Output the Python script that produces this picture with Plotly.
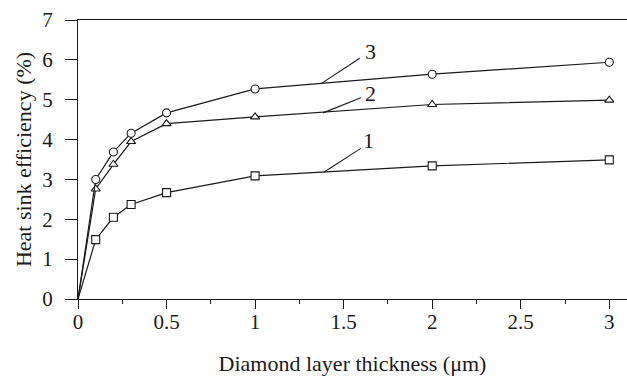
import plotly.graph_objects as go

# Diamond layer thickness (µm)
thickness = [0, 0.1, 0.2, 0.3, 0.5, 1, 2, 3]

# Heat sink efficiency (%) for the three configurations
eff_1 = [0, 1.49, 2.05, 2.37, 2.67, 3.09, 3.34, 3.49]
eff_2 = [0, 2.76, 3.38, 3.95, 4.40, 4.57, 4.88, 4.99]
eff_3 = [0, 3.00, 3.69, 4.16, 4.67, 5.27, 5.64, 5.94]

curve_names = ["1", "2", "3"]

x_ticks = [0, 0.5, 1, 1.5, 2, 2.5, 3]
x_tick_text = ["0", "0.5", "1", "1.5", "2", "2.5", "3"]
y_ticks = [0, 1, 2, 3, 4, 5, 6, 7]

FONT = "Liberation Serif"
INK = "#1a1a1a"

series = [
    (eff_1, "square", 8),
    (eff_2, "triangle-up", 8),
    (eff_3, "circle", 8),
]

fig = go.Figure()
for vals, symbol, size in series:
    fig.add_trace(go.Scatter(
        x=thickness, y=vals, mode="lines",
        line=dict(color=INK, width=1.2),
        showlegend=False, hoverinfo="skip", cliponaxis=False,
    ))
    # open markers (white fill) on the measured points, none at the origin
    xs = [t for t in thickness if t > 0]
    ys = [v for t, v in zip(thickness, vals) if t > 0]
    fig.add_trace(go.Scatter(
        x=xs, y=ys, mode="markers",
        marker=dict(symbol=symbol, size=size, color="white",
                    line=dict(color=INK, width=1.1)),
        showlegend=False, cliponaxis=False,
    ))

# curve labels with leader lines: (start on curve, end of leader, text position)
leaders = [
    ((1.388, 3.18), (1.597, 3.78), (1.64, 3.97)),
    ((1.384, 4.67), (1.597, 5.05), (1.65, 5.15)),
    ((1.375, 5.41), (1.591, 6.04), (1.65, 6.21)),
]
for name, (p0, p1, pt) in zip(curve_names, leaders):
    fig.add_shape(type="line", xref="x", yref="y",
                  x0=p0[0], y0=p0[1], x1=p1[0], y1=p1[1],
                  line=dict(color=INK, width=1.1))
    fig.add_annotation(x=pt[0], y=pt[1], xref="x", yref="y", text=name,
                       showarrow=False, font=dict(family=FONT, size=22, color=INK))

fig.update_layout(
    width=627, height=376,
    margin=dict(l=78, r=0, t=20, b=77),
    paper_bgcolor="white", plot_bgcolor="white",
    font=dict(family=FONT, color=INK),
    showlegend=False,
)
fig.update_xaxes(
    range=[0, 3.1], tickvals=x_ticks, ticktext=x_tick_text,
    showgrid=False, zeroline=False,
    showline=True, linecolor=INK, linewidth=1.2, mirror=True,
    ticks="outside", ticklen=9, tickwidth=1, tickcolor=INK,
    minor=dict(dtick=0.25, ticks="outside", ticklen=4, tickcolor=INK, showgrid=False),
    tickfont=dict(family=FONT, size=21, color=INK),
    ticklabelstandoff=-5,
    title=dict(text="Diamond layer thickness (μm)", standoff=22,
               font=dict(family=FONT, size=22, color=INK)),
)
fig.update_yaxes(
    range=[0, 7], tickvals=y_ticks,
    showgrid=False, zeroline=False,
    showline=True, linecolor=INK, linewidth=1.2,
    ticks="outside", ticklen=12, tickwidth=1, tickcolor=INK,
    tickfont=dict(family=FONT, size=21, color=INK),
    ticklabelstandoff=8,
    title=dict(text="Heat sink efficiency (%)", standoff=4,
               font=dict(family=FONT, size=22, color=INK)),
)

fig.write_html("out.html")
